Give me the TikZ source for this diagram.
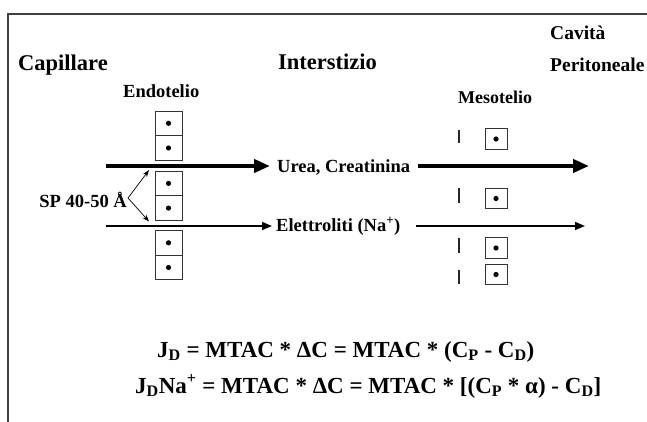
\documentclass[tikz,border=0pt]{standalone}
\usepackage{fontspec}
\setmainfont{Liberation Serif}
\usetikzlibrary{arrows.meta}
\begin{document}
\begin{tikzpicture}[x=1pt,y=-1pt,
  big/.style={font=\fontsize{22.5}{24}\selectfont\bfseries, inner sep=0, anchor=base west},
  mid/.style={font=\fontsize{19.5}{22}\selectfont\bfseries, inner sep=0, anchor=base west},
  lab/.style={font=\fontsize{18.5}{20}\selectfont\bfseries, inner sep=0, anchor=base west},
  eq/.style={font=\fontsize{23}{25}\selectfont\bfseries, inner sep=0, anchor=base west},
  cell/.style={draw=black!80, line width=0.8pt, minimum width=27pt, minimum height=24.7pt, inner sep=0, outer sep=0,
    path picture={\fill[black] (path picture bounding box.center) circle (2.6pt);}},
  mcell/.style={cell, minimum width=22pt, minimum height=20.5pt},
  bigarrow/.style={line width=4pt, -{Triangle[length=16pt,width=13pt]}},
  thinarrow/.style={line width=1.5pt, -{Triangle[length=10pt,width=8pt]}},
  sparrow/.style={line width=0.7pt, -{Stealth[length=7pt,width=5pt]}},
  tick/.style={line width=1.4pt, black!85}]
\useasboundingbox (0,0) rectangle (647,422);
% frame
\draw[line width=1.5pt, black!75] (648,14) -- (8,14) -- (8,423);
% headers
\node[big] (cap) at (18,71) {Capillare};
\node[big] (int) at (278,70) {Interstizio};
\node[mid] (cav) at (550,40) {Cavità};
\node[mid] (per) at (550,72) {Peritoneale};
\node[lab] (endo) at (123,97.5) {Endotelio};
\node[lab, font=\fontsize{18}{20}\selectfont\bfseries] (meso) at (458,104) {Mesotelio};
% endothelium cells
\node[cell] (e1) at (168.5,123.3) {};
\node[cell, anchor=north] (e2) at (e1.south) {};
\node[cell] (e3) at (168.5,183.4) {};
\node[cell, anchor=north] (e4) at (e3.south) {};
\node[cell] (e5) at (168.5,242.8) {};
\node[cell, anchor=north] (e6) at (e5.south) {};
% mesothelium cells
\node[mcell] (m1) at (496,139) {};
\node[mcell] (m2) at (496,198.5) {};
\node[mcell] (m3) at (496,248) {};
\node[mcell] (m4) at (496,274.5) {};
\draw[tick] (459,130) -- (459,143);
\draw[tick] (459,188) -- (459,203);
\draw[tick] (459,238) -- (459,253);
\draw[tick] (459,270) -- (459,284);
% flows
\node[lab] (urea) at (277,172) {Urea, Creatinina};
\node[lab] (elet) at (276,231) {Elettroliti (Na\textsuperscript{+})};
\coordinate (us) at (106,166);
\coordinate (ue) at (589,166);
\coordinate (es) at (106,226);
\coordinate (ee) at (585,226);
\draw[bigarrow] (us) -- ([xshift=-7pt]us -| urea.west);
\draw[bigarrow] ([xshift=8pt]us -| urea.east) -- (ue);
\draw[thinarrow] (es) -- ([xshift=-4pt]es -| elet.west);
\draw[thinarrow] ([xshift=15pt]es -| elet.east) -- (ee);
% SP label
\node[lab, anchor=base east] (sp) at (127,207) {SP 40-50 Å};
\coordinate (spv) at (128,198);
\draw[sparrow] (spv) -- ([xshift=-6pt,yshift=1pt]e3.north west);
\draw[sparrow] (spv) -- ([xshift=-6pt,yshift=-1pt]e4.south west);
% equations
\node[eq] (eq1) at (157,357) {J\textsubscript{D} = MTAC * ΔC = MTAC * (C\textsubscript{P} - C\textsubscript{D})};
\node[eq] (eq2) at (135,393) {J\textsubscript{D}Na\textsuperscript{+} = MTAC * ΔC = MTAC * [(C\textsubscript{P} * α) - C\textsubscript{D}]};
\end{tikzpicture}
\end{document}
